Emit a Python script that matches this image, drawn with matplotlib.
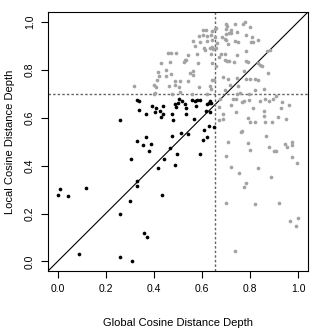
import numpy as np
import matplotlib
matplotlib.use("Agg")
import matplotlib.pyplot as plt

plt.rcParams['font.family'] = ['Liberation Sans', 'DejaVu Sans']

# depth values: (global, local)
lower_left = [
    (0.000, 0.277), (0.008, 0.302), (0.044, 0.275), (0.116, 0.307), (0.087, 0.031),
    (0.261, 0.200), (0.331, 0.336), (0.329, 0.314), (0.300, 0.254), (0.261, 0.020),
    (0.310, 0.000), (0.360, 0.120), (0.370, 0.104), (0.418, 0.392), (0.435, 0.278),
    (0.368, 0.518), (0.357, 0.486), (0.389, 0.492), (0.379, 0.461), (0.475, 0.524),
    (0.514, 0.538), (0.542, 0.532), (0.607, 0.549), (0.623, 0.521), (0.603, 0.506),
    (0.466, 0.474), (0.496, 0.450), (0.591, 0.448), (0.442, 0.427), (0.489, 0.404),
    (0.329, 0.674), (0.337, 0.671), (0.337, 0.633), (0.367, 0.617), (0.260, 0.592),
    (0.332, 0.502), (0.307, 0.428), (0.392, 0.649), (0.408, 0.642), (0.439, 0.650),
    (0.407, 0.624), (0.424, 0.627), (0.439, 0.615), (0.429, 0.603),
    (0.506, 0.679), (0.517, 0.671), (0.490, 0.659), (0.500, 0.661), (0.493, 0.646),
    (0.528, 0.657), (0.534, 0.639), (0.557, 0.672), (0.572, 0.671), (0.581, 0.674),
    (0.593, 0.673), (0.575, 0.649), (0.620, 0.656), (0.630, 0.660), (0.635, 0.670),
    (0.638, 0.661), (0.615, 0.628), (0.635, 0.622), (0.567, 0.596), (0.477, 0.615),
    (0.480, 0.590), (0.532, 0.614), (0.630, 0.567), (0.652, 0.561),
]

upper_left = [
    (0.317, 0.733), (0.400, 0.736), (0.410, 0.727), (0.413, 0.758), (0.421, 0.774),
    (0.417, 0.792), (0.428, 0.830), (0.400, 0.700), (0.407, 0.703), (0.452, 0.798),
    (0.473, 0.783), (0.449, 0.774), (0.549, 0.786), (0.562, 0.793), (0.564, 0.777),
    (0.488, 0.752), (0.507, 0.752), (0.542, 0.753), (0.641, 0.756), (0.463, 0.733),
    (0.488, 0.735), (0.506, 0.727), (0.587, 0.727), (0.635, 0.733), (0.638, 0.720),
    (0.474, 0.700), (0.510, 0.708), (0.557, 0.699), (0.621, 0.700), (0.605, 0.968),
    (0.616, 0.965), (0.640, 0.963), (0.588, 0.942), (0.606, 0.945), (0.621, 0.940),
    (0.638, 0.945), (0.563, 0.922), (0.594, 0.918), (0.620, 0.921), (0.644, 0.924),
    (0.571, 0.900), (0.608, 0.893), (0.635, 0.893), (0.641, 0.896), (0.613, 0.883),
    (0.645, 0.886), (0.461, 0.872), (0.473, 0.870), (0.493, 0.870), (0.580, 0.864),
    (0.544, 0.860), (0.638, 0.864), (0.530, 0.840), (0.535, 0.843), (0.524, 0.832),
    (0.467, 0.832), (0.582, 0.828), (0.644, 0.827), (0.654, 0.970), (0.660, 0.975),
    (0.655, 0.938), (0.662, 0.913), (0.660, 0.889), (0.660, 0.817), (0.651, 0.757),
]

upper_right = [
    (0.699, 0.993), (0.704, 0.982), (0.738, 0.990), (0.770, 0.993), (0.780, 1.000),
    (0.798, 0.979), (0.700, 0.972), (0.719, 0.965), (0.711, 0.954), (0.719, 0.952),
    (0.747, 0.957), (0.699, 0.949), (0.684, 0.939), (0.784, 0.947), (0.694, 0.928),
    (0.699, 0.925), (0.736, 0.920), (0.749, 0.914), (0.808, 0.935), (0.804, 0.915),
    (0.813, 0.915), (0.834, 0.924), (0.709, 0.906), (0.678, 0.868), (0.696, 0.868),
    (0.745, 0.862), (0.783, 0.877), (0.869, 0.879), (0.883, 0.883), (0.671, 0.854),
    (0.694, 0.843), (0.704, 0.838), (0.713, 0.835), (0.733, 0.832), (0.783, 0.836),
    (0.790, 0.833), (0.833, 0.827), (0.841, 0.820), (0.848, 0.815), (0.776, 0.795),
    (0.875, 0.785), (0.687, 0.771), (0.709, 0.761), (0.748, 0.767), (0.783, 0.761),
    (0.800, 0.761), (0.822, 0.760), (0.833, 0.756), (0.715, 0.735), (0.751, 0.732),
    (0.819, 0.715), (0.859, 0.718), (0.747, 0.700), (0.758, 0.703), (0.797, 0.699),
    (0.694, 0.716),
]

lower_right = [
    (0.677, 0.679), (0.731, 0.679), (0.740, 0.679), (0.767, 0.664), (0.777, 0.668),
    (0.794, 0.674), (0.720, 0.652), (0.671, 0.643), (0.812, 0.642), (0.863, 0.679),
    (0.841, 0.671), (0.896, 0.679), (0.908, 0.690), (0.878, 0.668), (0.932, 0.664),
    (0.961, 0.654), (0.928, 0.642), (0.857, 0.629), (0.742, 0.622), (0.688, 0.615),
    (0.859, 0.607), (0.915, 0.604), (0.949, 0.595), (0.673, 0.592), (0.688, 0.596),
    (0.791, 0.599), (0.800, 0.582), (0.819, 0.582), (0.861, 0.582), (0.891, 0.583),
    (0.761, 0.539), (0.766, 0.543), (0.865, 0.524), (0.708, 0.497), (0.790, 0.496),
    (0.908, 0.461), (0.899, 0.461), (0.880, 0.479), (0.944, 0.490), (0.975, 0.499),
    (0.975, 0.485), (0.955, 0.478), (0.801, 0.464), (0.700, 0.440), (0.975, 0.438),
    (0.995, 0.411), (0.720, 0.395), (0.834, 0.390), (0.754, 0.370), (0.886, 0.352),
    (0.784, 0.329), (0.777, 0.311), (0.699, 0.243), (0.822, 0.240), (0.922, 0.242),
    (0.967, 0.170), (1.000, 0.181), (0.992, 0.147), (0.738, 0.045),
]

global_cut = 0.655
local_cut = 0.697
ticks = [0.0, 0.2, 0.4, 0.6, 0.8, 1.0]
tick_labels = ['0.0', '0.2', '0.4', '0.6', '0.8', '1.0']

black = np.array(lower_left)
grey = np.array(upper_left + upper_right + lower_right)

fig = plt.figure(figsize=(3.32, 3.32), dpi=100)
ax = fig.add_axes([0.1446, 0.1837, 0.7822, 0.7792])

ax.scatter(grey[:, 0], grey[:, 1], s=7, c='#a3a3a3', linewidths=0, zorder=2)
ax.scatter(black[:, 0], black[:, 1], s=7, c='black', linewidths=0, zorder=3)

ax.plot([-0.04, 1.04], [-0.04, 1.04], color='black', lw=0.8, zorder=1)
ax.axvline(global_cut, color='#666666', lw=1.0, dashes=(1.8, 1.5), zorder=1)
ax.axhline(local_cut, color='#666666', lw=1.0, dashes=(1.8, 1.5), zorder=1)

ax.set_xlim(-0.04, 1.04)
ax.set_ylim(-0.04, 1.04)
ax.set_xticks(ticks)
ax.set_xticklabels(tick_labels)
ax.set_yticks(ticks)
ax.set_yticklabels(tick_labels, rotation=90, va='center')
ax.tick_params(direction='out', length=5, width=0.8, labelsize=7.5, pad=4.5)
for s in ax.spines.values():
    s.set_linewidth(0.8)

fig.text(177.9 / 332, 1 - 322.7 / 332, 'Global Cosine Distance Depth', fontsize=8,
         ha='center', va='center')
fig.text(10 / 332, 1 - 141.7 / 332, 'Local Cosine Distance Depth', fontsize=8,
         ha='center', va='center', rotation=90)

fig.savefig('out.png', dpi=100)
